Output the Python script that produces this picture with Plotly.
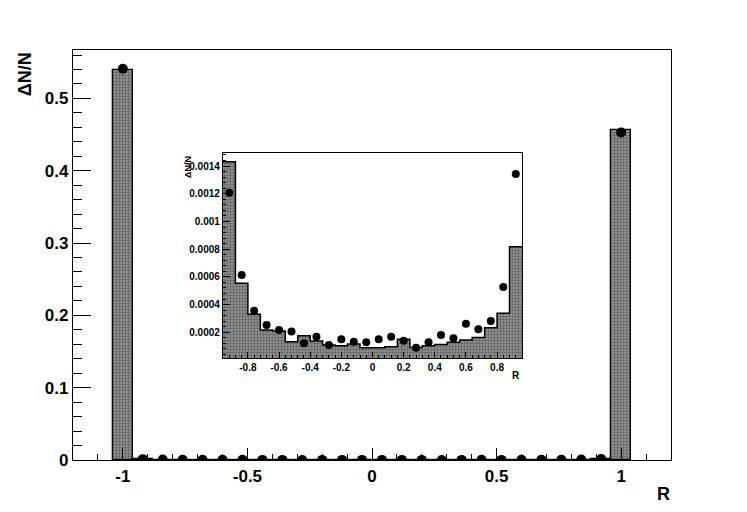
import numpy as np
import plotly.graph_objects as go

# bin centres of the R histogram (width 0.08)
r_centres = [round(-1.0 + 0.08 * i, 2) for i in range(26)]
bin_width = 0.08

# simulated histogram (Delta N / N), full range incl. the two edge bins
hist_vals = [0.540,
             0.00143, 0.000554, 0.00033, 0.000217, 0.000209, 0.000132,
             0.000176, 0.000137, 0.000108, 0.000103, 0.000116, 0.000089,
             0.000089, 0.000096, 0.00015, 0.00009, 0.000103, 0.000112,
             0.000129, 0.000145, 0.000162, 0.000233, 0.000337, 0.000818,
             0.456]

# measured points
data_vals = [0.541,
             0.001207, 0.000613, 0.000356, 0.000253, 0.000217, 0.000207,
             0.000121, 0.000168, 0.000108, 0.00015, 0.000132, 0.000128,
             0.00015, 0.000168, 0.00014, 0.000089, 0.000128, 0.00018,
             0.000157, 0.000262, 0.000222, 0.000282, 0.000527, 0.001342,
             0.453]

main_xticks = [-1, -0.5, 0, 0.5, 1]
main_xlabels = ['-1', '-0.5', '0', '0.5', '1']
main_yticks = [0, 0.1, 0.2, 0.3, 0.4, 0.5]
main_ylabels = ['0', '0.1', '0.2', '0.3', '0.4', '0.5']
inset_xticks = [-0.8, -0.6, -0.4, -0.2, 0, 0.2, 0.4, 0.6, 0.8]
inset_xlabels = ['-0.8', '-0.6', '-0.4', '-0.2', '0', '0.2', '0.4', '0.6', '0.8']
inset_yticks = [0.0002, 0.0004, 0.0006, 0.0008, 0.001, 0.0012, 0.0014]
inset_ylabels = ['0.0002', '0.0004', '0.0006', '0.0008', '0.001', '0.0012', '0.0014']

# inset uses only the interior bins
in_x = r_centres[1:-1]
in_h = hist_vals[1:-1]
in_d = data_vals[1:-1]
edges = [x - bin_width / 2 for x in in_x] + [in_x[-1] + bin_width / 2]

FONT = "Liberation Sans"
pattern = dict(shape=".", fgcolor="#262626", bgcolor="#9c9c9c", size=3, solidity=0.5)

fig = go.Figure()

# main panel
fig.add_trace(go.Bar(
    x=r_centres, y=hist_vals, width=bin_width,
    marker=dict(color="#9c9c9c", pattern=pattern, line=dict(color="black", width=1.3)),
    xaxis="x", yaxis="y", showlegend=False
))
fig.add_trace(go.Scatter(
    x=r_centres, y=data_vals, mode="markers",
    marker=dict(color="black", size=10),
    xaxis="x", yaxis="y", showlegend=False
))

# inset panel
fig.add_trace(go.Bar(
    x=in_x, y=in_h, width=bin_width,
    marker=dict(color="#9c9c9c", pattern=pattern, line=dict(width=0)),
    xaxis="x2", yaxis="y2", showlegend=False
))
fig.add_trace(go.Scatter(
    x=edges, y=in_h + [in_h[-1]], mode="lines", line_shape="hv",
    line=dict(color="black", width=1.5),
    xaxis="x2", yaxis="y2", showlegend=False
))
fig.add_trace(go.Scatter(
    x=in_x, y=in_d, mode="markers",
    marker=dict(color="black", size=8),
    xaxis="x2", yaxis="y2", showlegend=False
))

axis_common = dict(showline=True, linecolor="black", linewidth=1.3, mirror=True,
                   showgrid=False, zeroline=False, ticks="inside", tickcolor="black")

# page body has an 8px margin, so the figure is shrunk by that amount
fig.update_layout(
    width=739, height=504,
    margin=dict(l=65, r=76, t=42, b=52),
    paper_bgcolor="white", plot_bgcolor="white",
    bargap=0,
    xaxis=dict(axis_common, domain=[0, 1], range=[-1.2, 1.2],
               tickvals=main_xticks, ticktext=main_xlabels, ticklen=12, tickwidth=1.2,
               minor=dict(ticks="inside", dtick=0.1, ticklen=6, tickcolor="black"),
               tickfont=dict(family=FONT, size=17, color="black", weight="bold")),
    yaxis=dict(axis_common, domain=[0, 1], range=[0, 0.567],
               tickvals=main_yticks, ticktext=main_ylabels, ticklen=18, tickwidth=1.2,
               minor=dict(ticks="inside", dtick=0.02, ticklen=9, tickcolor="black"),
               tickfont=dict(family=FONT, size=17, color="black", weight="bold")),
    xaxis2=dict(axis_common, domain=[0.2508, 0.7508], range=[-0.96, 0.96], anchor="y2",
                tickvals=inset_xticks, ticktext=inset_xlabels, ticklen=6, tickwidth=1,
                minor=dict(ticks="inside", dtick=0.04, ticklen=3, tickcolor="black"),
                tickfont=dict(family=FONT, size=10, color="black", weight="bold")),
    yaxis2=dict(axis_common, domain=[0.2488, 0.7488], range=[0.000015, 0.001494], anchor="x2",
                tickvals=inset_yticks, ticktext=inset_ylabels, ticklen=7, tickwidth=1,
                minor=dict(ticks="inside", dtick=0.00004, ticklen=3, tickcolor="black"),
                tickfont=dict(family=FONT, size=10, color="black", weight="bold")),
    annotations=[
        dict(text="<b>ΔN/N</b>", textangle=-90, xref="paper", yref="paper",
             x=-0.080, y=1.0, xanchor="center", yanchor="top", showarrow=False,
             font=dict(family=FONT, size=18, color="black")),
        dict(text="<b>R</b>", xref="paper", yref="paper",
             x=0.987, y=-0.083, xanchor="center", yanchor="middle", showarrow=False,
             font=dict(family=FONT, size=18, color="black")),
        dict(text="<b>ΔN/N</b>", textangle=-90, xref="paper", yref="paper",
             x=0.192, y=0.746, xanchor="center", yanchor="top", showarrow=False,
             font=dict(family=FONT, size=9, color="black")),
        dict(text="<b>R</b>", xref="paper", yref="paper",
             x=0.741, y=0.207, xanchor="center", yanchor="middle", showarrow=False,
             font=dict(family=FONT, size=10, color="black")),
    ],
)

fig.write_html("out.html")
